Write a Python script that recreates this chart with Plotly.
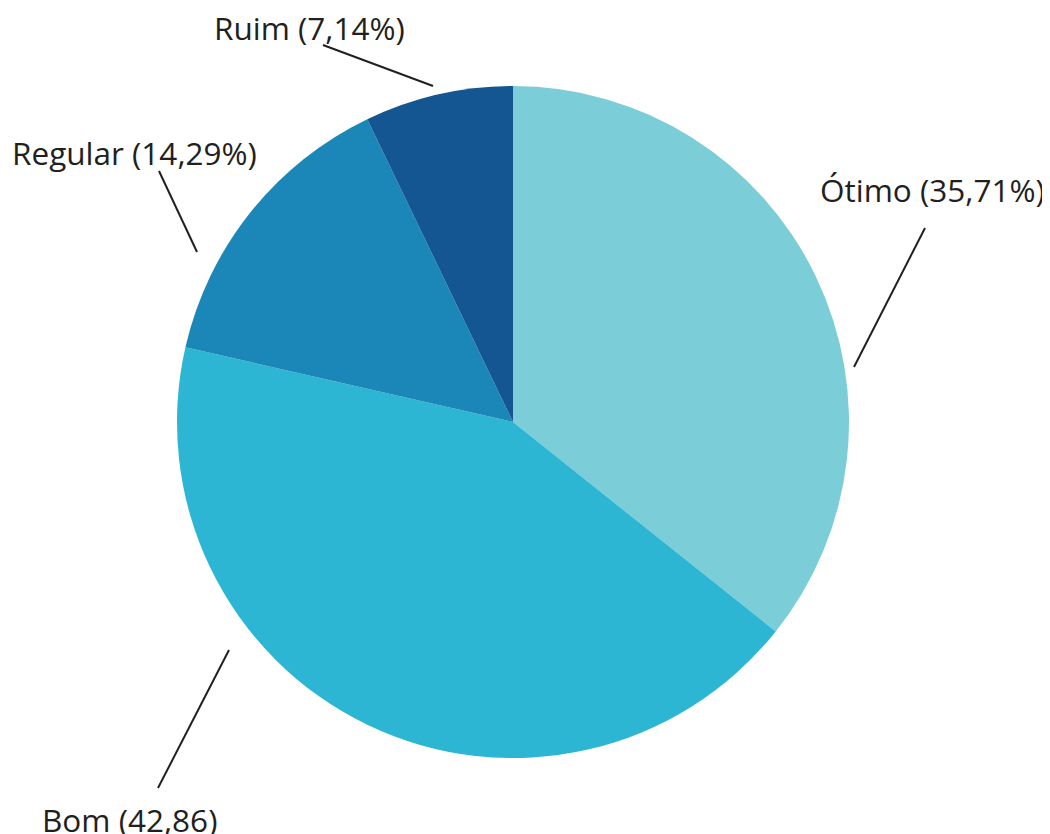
import plotly.graph_objects as go

# Data
categories = ["Ótimo", "Bom", "Regular", "Ruim"]
values = [35.71, 42.86, 14.29, 7.14]
label_texts = ["Ótimo (35,71%)", "Bom (42,86)", "Regular (14,29%)", "Ruim (7,14%)"]
colors = ["#7BCDD8", "#2DB5D4", "#1B86B8", "#135692"]

PAGE_MARGIN = 8  # browser default body margin shifts the figure
W, H = 1050 - PAGE_MARGIN, 834 - PAGE_MARGIN

def px(x):
    return (x - PAGE_MARGIN) / W

def py(y):
    return 1 - (y - PAGE_MARGIN) / H

# Layout: label centers and leader lines (screen pixel coords)
label_pos = [(932, 190), (129.5, 819), (134.5, 153), (309, 27)]
leader_lines = [((925, 228), (854, 367)),
                ((229, 650), (158, 788)),
                ((159, 171), (197, 252)),
                ((323, 45), (433, 86))]

fig = go.Figure(go.Pie(
    labels=categories,
    values=values,
    sort=False,
    direction="clockwise",
    rotation=0,
    marker=dict(colors=colors, line=dict(width=0)),
    textinfo="none",
    hoverinfo="label+percent",
    domain=dict(x=[px(177), px(849)], y=[py(758), py(86)]),
))

annotations = []
for txt, (x, y) in zip(label_texts, label_pos):
    annotations.append(dict(
        x=px(x), y=py(y), xref="paper", yref="paper",
        text=txt, showarrow=False, xanchor="center", yanchor="middle",
        font=dict(family="Open Sans", size=31.5, color="#231f20"),
    ))

shapes = []
for (a, b) in leader_lines:
    shapes.append(dict(
        type="line", xref="paper", yref="paper",
        x0=px(a[0]), y0=py(a[1]), x1=px(b[0]), y1=py(b[1]),
        line=dict(color="#231f20", width=2),
    ))

fig.update_layout(
    width=W, height=H,
    margin=dict(l=0, r=0, t=0, b=0),
    showlegend=False,
    paper_bgcolor="white",
    plot_bgcolor="white",
    annotations=annotations,
    shapes=shapes,
)

fig.write_html("out.html")
